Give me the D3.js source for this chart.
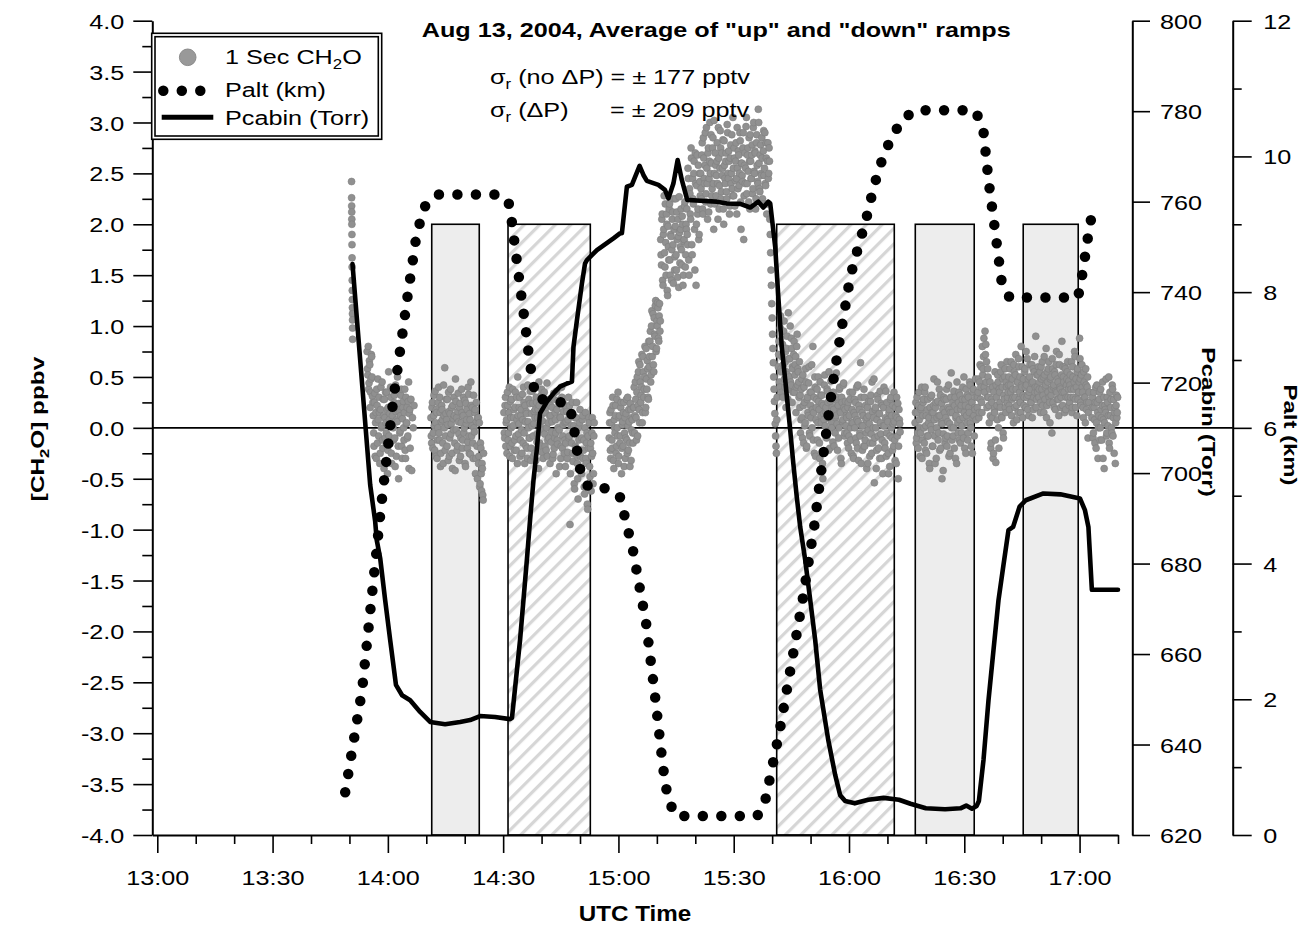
<!DOCTYPE html>
<html><head><meta charset="utf-8">
<script src="https://cdn.jsdelivr.net/npm/d3@7"></script>
<style>
body{margin:0;background:#fff;}
</style></head><body>
<svg id="chart" width="1307" height="928"></svg>
<script>
// ---------- DATA (times in minutes after 13:00 UTC) ----------
// Calibration boxes
const boxStart = ["14:11:25", "14:31:16", "15:41:11", "16:17:15", "16:45:20"];
const boxEnd   = ["14:23:47", "14:52:41", "16:11:47", "16:32:35", "16:59:39"];
const boxKind  = ["solid", "hatched", "hatched", "solid", "solid"];
const boxTop = 2.0;

// Palt (km)
const paltTime = [48.9, 53.3, 58.2, 61.4, 65.2, 67.3, 68.4, 69.9, 73.3, 87.9, 90.5, 91.4, 92.2, 93.4, 94.6, 95.8, 96.9, 98.5,
  103.0, 107.2, 108.2, 109.5, 110.3, 112.4, 117.3, 120.4, 123.8, 127.2, 129.5, 131.6, 132.9, 135.0, 156.1, 158.0, 162.0,
  168.0, 171.0, 173.3, 175.8, 178.0, 180.3, 182.8, 184.2, 186.4, 188.1, 190.7, 193.8, 197.2, 212.8, 214.9, 216.3, 218.0,
  219.8, 221.8, 239.6, 240.8, 242.2, 243.0, 247.1];
const paltKm = [0.63, 2.14, 4.82, 6.41, 7.97, 8.78, 9.04, 9.30, 9.44, 9.44, 9.39, 9.33, 9.06, 8.53, 8.00, 7.49, 6.97, 6.43,
  6.41, 6.34, 6.09, 5.56, 5.31, 5.11, 5.11, 4.98, 4.19, 3.12, 2.06, 1.00, 0.52, 0.28, 0.28, 0.45, 1.55,
  3.49, 4.57, 5.60, 6.66, 7.44, 8.22, 8.75, 9.01, 9.54, 9.87, 10.24, 10.54, 10.68, 10.68, 10.42, 9.65, 8.91,
  8.12, 7.92, 7.92, 8.29, 8.82, 9.08, 9.15];

// Pcabin (Torr)
const pcabTime = [50.8, 55.4, 56.7, 57.1, 58.0, 59.3, 60.6, 62.1, 63.7, 65.8, 68.4, 71.0, 74.9, 78.8, 81.4, 84.0, 87.9, 91.8,
  92.3, 94.4, 96.2, 97.0, 97.9, 98.75, 99.6, 101.4, 103.1, 104.8, 106.6, 107.9, 108.3, 109.2, 110.5, 111.3, 111.8, 114.4,
  118.7, 120.4, 120.9, 122.2, 123.5, 125.5, 126.5, 127.4, 130.4, 132.1, 133.0, 134.3, 135.4, 136.5, 137.9, 141.3, 145.6,
  148.2, 151.7, 154.3, 156.4, 157.7, 159.0, 159.5, 160.8, 161.6, 162.5, 163.4, 164.7, 165.5, 166.4, 167.3, 168.6, 169.9,
  171.2, 172.5, 174.6, 176.4, 177.7, 179.0, 181.5, 185.0, 189.0, 193.0, 196.0, 200.0, 205.0, 209.0, 210.5, 212.0, 213.2,
  213.8, 215.0, 216.3, 217.6, 218.9, 220.2, 221.5, 222.7, 224.4, 226.0, 230.6, 235.0, 240.1, 241.4, 242.3, 243.2, 250.0];
const pcabTorr = [746.2, 697.4, 689.3, 685.2, 681.2, 671.9, 663.1, 653.2, 650.9, 649.8, 647.2, 645.0, 644.5, 645.0, 645.4, 646.3, 646.1, 645.6,
  645.9, 663.1, 681.1, 689.6, 698.5, 705.1, 713.2, 715.8, 717.6, 719.1, 719.8, 720.2, 727.9, 733.8, 741.9, 746.3, 747.1, 749.3,
  751.9, 753.0, 753.0, 763.3, 763.7, 767.9, 765.9, 764.6, 763.7, 762.6, 760.7, 764.0, 769.2, 764.8, 760.4, 760.2, 760.0,
  759.6, 759.5, 758.7, 760.0, 758.7, 760.0, 759.6, 750.0, 739.0, 727.9, 720.6, 709.5, 702.2, 694.8, 688.1, 680.8, 672.0,
  663.1, 652.1, 641.0, 633.3, 628.8, 627.5, 627.0, 627.8, 628.2, 627.8, 626.9, 625.9, 625.7, 625.9, 626.5, 625.8, 626.4,
  627.5, 636.6, 649.8, 660.9, 671.9, 679.7, 687.4, 688.1, 692.6, 694.0, 695.5, 695.3, 694.4, 691.8, 688.1, 674.2, 674.2];

// 1 Sec CH2O (ppbv x 100), regularly sampled segments (two interleaved reading sets)
const ch2oSpike = [242, 226, 218, 212, 205, 200, 190, 180, 167, 158, 145, 135, 126, 118, 112, 106, 98, 87];
const ch2oA = [75, 52, 38, 66, 20, 48, 70, 31,
  12, -18, 34, 5, -30, 22, 48, -8, 15, -25, 40, 2, -12, 28, -40, 10, 35, -5, 18, -22,
  55, 8, -15, 30, -35, 12, 0, 25, -10, 42, -28, 6, 20, -50, 15, -3, 32, -18, 9, 26,
  -12, 38, -30, 4, 20, -8, 45, 14, -20, 28, -42, 10, 0, 22];
const ch2oA2 = [58, 80, 44, 62, 35, 72, 50, 25,
  -5, 25, -28, 15, 38, -15, 8, 30, -35, 18, 0, 45, -20, 12, 28, -10, 5, 35, -45, 20,
  -8, 14, 40, -25, 2, 22, -12, 32, -38, 16, 8, 50, -18, 24, -5, 12, 38, -30, 20, 0,
  15, -22, 30, 5, -10, 26, -40, 18];
const ch2oB = [10, -15, 25, -5, 32, -22, 5, 18, -30, 0, 40, -12, 15, -25, 22, 8, -35, 12, 59, -8,
  28, -18, 3, 35, -28, 14, -6, 20, -40, 9, 30, -15, 48, -2, -22, 16, 6, -32, 24, -10,
  38, -20, 12, -5, 27, -38, 4, 18, -14, 33, -25, 8, 45, -8, 20, -30, 0, 15, -45, 25,
  -18, 10, -35, 5, -55, -20, -62, -40, -71];
const ch2oB2 = [-8, 20, -20, 12, 2, 36, -28, 15, -12, 25, -5, 30, -38, 6, 18, -15, 42, 0, -22, 14,
  8, 28, -32, 16, -10, 38, 4, -25, 22, -2, 12, -42, 26, 10, -18, 34, -6, 20, -28, 5,
  15, -12, 30, 0, -35, 24, 8, -20, 40, -8, 14, -26, 22, 2, -15, 32, -4, 18, -30, 6,
  -50, 10, -28, -58, -15, -45, -35, -66, -25];
const ch2oC = [15, -10, 30, 5, -25, 22, -5, 40, -18, 10, 28, -30, 2, 18, -12, 35, -22, 8, 50, -6,
  20, -28, 12, -2, 33, -15, 25, -35, 6, 16, -20, 42, 0, -10, 24, -32, 14, 36, -8, 4,
  -25, 18, 30, -14, 10, -40, 22, 2, -18, 38, 7, -30, 26, -6, 15, -22, 44, -12, 5, 28,
  -35, 12, -4, 20, -26, 34, -10, 8, -45, 18, -16, 27, -2, 11, -30, 40, -20, 3, 23, -12,
  -38, 6, 16, -24, 30, -8, -95, 12, -15, 25, -33, 2, -60, -18, 10, -28, -50, 0, -40, 18,
  -22, -45, 8, -30, -12, -65, 15, -35, -5, -80, -20, 5, -48, -15, -28, 10, -55, -8];
const ch2oC2 = [-5, 22, -18, 8, 35, -12, 15, -28, 26, 0, -15, 38, 10, -22, 20, -8, 30, -35, 12, 4,
  30, -12, 18, -25, 8, 40, -5, 22, -18, 14, -30, 6, 28, -10, 36, -20, 2, 24, -28, 16,
  10, -32, 25, -6, 18, 45, -15, 8, 32, -24, 14, -2, 35, -18, 20, 0, -28, 26, -10, 12,
  22, -14, 6, -30, 28, -20, 15, -5, 36, -12, 0, 24, -38, 10, -18, 30, -8, 16, -25, 5,
  -15, 20, -30, 8, -10, 22, -45, 2, 15, -25, -5, -55, 10, -20, 25, -35, -70, -12, 5, -28,
  -40, -10, 12, -22, -58, 0, -30, -15, -75, -8, 10, -38, -20, -62, -5, -25, -45, 5];
const ch2oD = [-10, 15, -30, 5, -20, 22, -40, 0, 12, -25, 28, -8, -35, 10, -15, 20, -45, 3, -18, 25, -5, -30, 14, -12, 30, -22, 6, -38, 18, -2, 8, -15,
  20, -5, 45, 10, 35, -8, 55, 18, 62, 25, 40, 5, 70, 30, 50, 15, 78, 38, 58, 28,
  60, 85, 45, 100, 70, 112, 55, 92, 120, 75, 105, 123, 88, 110, 95];
const ch2oD2 = [5, -22, 18, -12, 30, -32, 8, -5, 22, -18, 0, 35, -28, 12, -8, 25, -20, 6, 15, -38, 10, -10, 28, -25, 2, 18, -15, 24, -32, 10, -5, 20,
  40, 12, 28, -12, 50, 22, 65, 5, 45, 32, 72, 15, 55, 38, 80, 20, 48, 66, 30, 85,
  70, 95, 52, 115, 80, 62, 108, 90, 125, 78, 100, 118, 85, 122, 105];
const ch2oHigh = [185, 160, 210, 140, 195, 172, 220, 150, 200, 130, 178, 215, 165, 190, 145, 205, 180, 225, 155, 198, 170, 212, 148, 188, 227, 162, 195, 175, 208, 140, 183, 218, 158, 200,
  215, 180, 245, 150, 230, 205, 265, 170, 225, 250, 195, 270, 140, 238, 210, 258, 190, 242,
  250, 225, 280, 210, 265, 240, 290, 230, 255, 205, 275, 245, 300, 220, 260, 235, 285, 195, 250, 270,
  228, 262, 240, 295, 215, 255, 275, 232, 248, 283, 200, 258, 240, 270, 225, 290, 245, 262, 218, 278,
  250, 235, 305, 228, 265, 243, 280, 210, 255, 272, 238, 290, 222, 260, 248, 275, 185, 258, 240, 296,
  230, 268, 252, 285, 215, 262, 245, 278, 235, 300, 250, 270, 225, 288, 242, 313, 260, 232, 278, 248,
  265, 220, 292, 255, 240, 280, 210, 262, 245, 275];
const ch2oHigh2 = [170, 205, 145, 190, 228, 158, 182, 210, 135, 198, 165, 220, 150, 188, 175, 212, 142, 195, 168, 225, 155, 185, 205, 138, 192, 178, 215, 160, 200, 150, 185, 222, 170, 195,
  190, 255, 165, 235, 210, 275, 180, 245, 220, 262, 155, 240, 200, 268, 215, 185, 250, 228,
  235, 268, 215, 285, 245, 258, 222, 295, 240, 270, 212, 262, 250, 288, 228, 275, 240, 302, 220, 258,
  248, 280, 205, 265, 238, 292, 225, 270, 255, 215, 282, 245, 262, 232, 298, 250, 272, 210, 265, 240,
  288, 228, 255, 275, 218, 262, 245, 295, 235, 268, 250, 282, 195, 260, 242, 290, 228, 270, 255, 305,
  240, 275, 222, 262, 288, 245, 268, 230, 295, 252, 272, 215, 280, 258, 240, 300, 235, 268, 250, 285,
  225, 272, 248, 290, 238, 265, 220, 280, 250, 262];
const ch2oDrop = [205, 190, 172, 155, 140, 122, 108, 92, 78, 64, 50, 38, 26, 14, 4, -8, -18, -25, 8, 30];
const ch2oE = [60, 85, 40, 110, 55, 70, 30, 95, 48, 65, 20, 78, 52, 113, 38, 68, 45, 88, 25, 58, 72, 35, 62, 15, 80, 42, 55, 30,
  20, -5, 38, 10, 52, -15, 25, 5, 45, -18, 30, 12, 60, -8, 22, 35, 0, 80, 15, -25, 40, 8, 28, -12, 50, 18, -30, 32, 5, 24,
  -50, 14, 42, 2, 20, -10, 36, 10, 55, -20, 26, 6, 34, -14, 18, 48, -5, 12, 30, -22, 22, 0, 40, 15, -35, 25, 8, 44, -8, 18, 2,
  10, -15, 25, -8, 35, 0, -25, 18, 5, -30, 28, 12, -10, 40, -20, 6, 22, -5, 64, -35, 15, 2, -18, 30, -12, 8, -40, 20, -2, 12,
  -28, 26, -6, 45, -15, 10, -54, 18, 0, -22, 32, -8, 14, -30, 5, 24, -12, -45, 20, 2, -20, 36, -5, 8, -25, 15, -38, 28, 0, -10,
  22, -18, 6, -32, 12, 30, -8, -50, 18, 4];
const ch2oE2 = [72, 45, 98, 58, 35, 82, 62, 105, 40, 75, 55, 90, 28, 68, 50, 100, 42, 78, 60, 35, 85, 52, 70, 40, 92, 58, 45, 65,
  32, 8, 48, -10, 22, 40, 2, 58, -20, 28, 15, 44, -5, 35, 10, 62, 18, -12, 30, 50, -28, 20, 38, 5, 26, -15, 45, 12, 32, -35,
  22, 8, 52, 16, -8, 38, 25, -22, 30, 12, 46, 0, 20, 35, -18, 28, 10, 54, 4, 24, -10, 38, 16, -30, 30, 6, 42, 20, -5, 26, 12,
  -5, 20, -20, 12, 28, -12, 5, 35, -28, 15, 0, 25, -15, 8, 42, -32, 18, -8, 30, 2, -22, 12, 38, -18, 22, -5, 10, -35, 26, 4,
  -15, 32, -25, 16, 0, 48, -10, 20, -40, 8, 28, -20, 14, 36, -6, -30, 22, 2, 40, -15, 10, -28, 25, 6, -45, 18, -8, 30, 12, -22,
  4, 35, -12, 20, -35, 10, 24, -18, 8, -4];
const ch2oF = [5, 25, -10, 15, -20, 35, 0, -5, 20, -30, 12, 28, -15, 40, 2, -25, 18, -8, 10, -40,
  30, -2, 15, -18, 22, 8, -35, 25, 0, 45, -12, 12, -22, 32, 5, -50, 18, -6, 28, -15,
  10, 38, -8, 20, -28, 4, 15, 54, -12, 25, 0, -20, 30, 10, -35, 18, -5, 35, 8, -15,
  22, 2, 40, -10, 15, 28, -25, 12, 32, -5, 20, 45, 5, -18, 25, 10, 38, -8, 18, 30];
const ch2oF2 = [15, -15, 30, -5, 22, 8, -28, 18, 40, -12, 25, 0, 35, -22, 12, -8, 28, 5, -35, 20,
  2, 32, -18, 15, 48, -8, 20, -30, 10, 26, -5, 38, 12, -20, 24, 4, -42, 30, 15, -10,
  28, -18, 6, 42, 18, -25, 30, 0, 15, -8, 36, 22, -30, 12, 45, 5, 25, -12, 32, 18,
  -5, 28, 10, 50, -20, 22, 38, 5, -12, 30, 15, 42, 0, 25, -25, 35, 12, 20, 48, 8];
const ch2oG = [20, 35, 10, 45, 28, 60, 15, 52, 70, 40, 95, 82, 65, 30, 50, 22, 38, 12, -15, 25, 40, -25, 18, 55, -34, 30, 8, 45, -20, 35, 20, 62, 10, 48, -10, 28, 58, 15, 40, 25,
  35, 50, 18, 42, 65, 28, 38, 5, 55, 30, 72, 22, 45, 15, 60, 35, 25, 80, 40, 10, 48, 30, 58, 20, 42, 68, 32, 12, 50, 38, 25, 62, 45, 18, 55, 35, 90, 28, 40, 52,
  30, 45, 15, 60, 38, 22, 50, 70, 28, 42, 10, 55, 35, 65, 25, 48, 32, -5, 58, 40, 20, 52, 36, 75, 28, 45, 12, 62, 38, 30, 85, 22, 50, 35, 60, 18, 42, 55, 30, 46,
  25, 52, 38, 15, 60, 30, 45, 70, 20, 40, 55, 28, 35, 88, 48, 22, 62, 35, 10, 45, 30, 58, 18, 40, -10, 25];
const ch2oG2 = [30, 48, 15, 62, 40, 25, 80, 58, 88, 35, 72, 45, 20, 58, 30, 5, 45, -20, 28, 10, -30, 35, 15, -12, 42, 22, 52, 0, 38, 25, 55, 12, 40, -5, 32, 50, 20, 45, 65, 30,
  42, 22, 58, 35, 12, 48, 30, 62, 20, 52, 38, 8, 45, 68, 28, 50, 15, 42, 60, 32, 22, 55, 40, 75, 30, 18, 48, 35, 62, 25, 44, 10, 58, 30, 70, 40, 20, 52, 35, 60,
  38, 55, 25, 48, 65, 32, 15, 52, 40, 78, 22, 45, 58, 30, 5, 50, 38, 68, 25, 42, 55, 18, 62, 35, 48, 28, 72, 40, 20, 52, 35, 60, 45, 15, 58, 30, 48, 65, 38, 22,
  42, 30, 65, 20, 50, 38, 75, 28, 48, 12, 58, 35, 45, 68, 25, 52, 40, 20, 55, 30, 5, 42, 25, 50, 15, 35];
const ch2oH = [10, 30, -5, 20, -15, 40, 5, 25, -30, 12, 35, 0, 18, -12, 45, 8, -40, 22, 15, -8, 30, 2, 50, -20, 12, 28, -5, 38, 10, -25, 20, 5, 32, 15];
const ch2oH2 = [20, -10, 35, 8, 25, -20, 42, 15, 0, 28, -12, 38, 10, 22, -30, 30, 5, 18, 48, -5, 25, 12, -15, 35, 20, 0, 42, -8, 28, 15, -35, 22, 10, 30];

const ch2oSegs     = [ch2oSpike, ch2oA, ch2oA2, ch2oB, ch2oB2, ch2oC, ch2oC2, ch2oD, ch2oD2, ch2oHigh, ch2oHigh2, ch2oDrop, ch2oE, ch2oE2, ch2oF, ch2oF2, ch2oG, ch2oG2, ch2oH, ch2oH2];
const ch2oSegStart = [50.55, 54.6, 54.7, 71.2, 71.3, 90.2, 90.3, 117.6, 117.7, 131.0, 131.1, 159.4, 161.6, 161.7, 197.2, 197.3, 213.4, 213.5, 243.2, 243.3];
const ch2oSegStep  = [1/60, 0.2, 0.2, 0.2, 0.2, 0.2, 0.2, 0.2, 0.2, 0.2, 0.2, 0.1, 0.2, 0.2, 0.2, 0.2, 0.2, 0.2, 0.2, 0.2];

// Axis ticks
const xMajor = [0, 30, 60, 90, 120, 150, 180, 210, 240];
const xLabels = ["13:00", "13:30", "14:00", "14:30", "15:00", "15:30", "16:00", "16:30", "17:00"];
const yLeftMajor = [-4, -3.5, -3, -2.5, -2, -1.5, -1, -0.5, 0, 0.5, 1, 1.5, 2, 2.5, 3, 3.5, 4];
const yPcabTicks = [620, 640, 660, 680, 700, 720, 740, 760, 780, 800];
const yPaltTicks = [0, 2, 4, 6, 8, 10, 12];

// ---------- DRAWING ----------
const FONT = '"Liberation Sans", Arial, Helvetica, sans-serif';
const SX = 1.2;
const svg = d3.select("#chart");
const tm = s => { const p = s.split(":").map(Number); return (p[0] - 13) * 60 + p[1] + (p[2] || 0) / 60; };

const x = d3.scaleLinear().domain([-1.3, 250]).range([152.3, 1118]);
const y = d3.scaleLinear().domain([-4, 4]).range([835, 20.7]);
const yP = d3.scaleLinear().domain([620, 800]).range([835, 20.7]);
const yA = d3.scaleLinear().domain([0, 12]).range([835, 20.7]);

// hatch pattern
const defs = svg.append("defs");
const pat = defs.append("pattern").attr("id", "hatch").attr("patternUnits", "userSpaceOnUse")
  .attr("width", 11).attr("height", 11).attr("patternTransform", "rotate(45)");
pat.append("rect").attr("width", 11).attr("height", 11).attr("fill", "#fff");
pat.append("rect").attr("x", 0).attr("y", 0).attr("width", 3.2).attr("height", 11).attr("fill", "#d6d6d6");

// boxes
svg.append("g").selectAll("rect").data(boxStart.map((s, i) => ({ s: tm(s), e: tm(boxEnd[i]), k: boxKind[i] })))
  .join("rect")
  .attr("x", d => x(d.s)).attr("width", d => x(d.e) - x(d.s))
  .attr("y", y(boxTop)).attr("height", y(-4) - y(boxTop))
  .attr("fill", d => d.k === "solid" ? "#ededed" : "url(#hatch)")
  .attr("stroke", "#000").attr("stroke-width", 1.6);

// zero line
svg.append("line").attr("x1", x.range()[0]).attr("x2", 1232.7).attr("y1", y(0)).attr("y2", y(0))
  .attr("stroke", "#000").attr("stroke-width", 1.6);

// scatter
const pts = [];
ch2oSegs.forEach((vals, i) => vals.forEach((v, j) => pts.push({ t: ch2oSegStart[i] + j * ch2oSegStep[i], v: v / 100 })));
pts.sort((a, b) => a.t - b.t);
svg.append("g").selectAll("circle").data(pts).join("circle")
  .attr("cx", d => x(d.t)).attr("cy", d => y(d.v)).attr("r", 3.5)
  .attr("fill", "#909090").attr("stroke", "#808080").attr("stroke-width", 0.6);

// Palt dotted line
const paltLine = d3.line().x(d => x(d[0])).y(d => yA(d[1]));
svg.append("path").datum(paltTime.map((t, i) => [t, paltKm[i]]))
  .attr("d", paltLine).attr("fill", "none").attr("stroke", "#000").attr("stroke-width", 10.5)
  .attr("stroke-linecap", "round").attr("stroke-dasharray", "0 18.5");

// Pcabin line
const pcabLine = d3.line().x(d => x(d[0])).y(d => yP(d[1]));
svg.append("path").datum(pcabTime.map((t, i) => [t, pcabTorr[i]]))
  .attr("d", pcabLine).attr("fill", "none").attr("stroke", "#000").attr("stroke-width", 4.6)
  .attr("stroke-linejoin", "round").attr("stroke-linecap", "round");

// axes
function styleAxis(g) {
  g.attr("font-family", FONT);
  g.select(".domain").attr("stroke-width", 2).attr("stroke", "#000");
  g.selectAll(".tick line").attr("stroke-width", 1.6).attr("stroke", "#000");
  g.selectAll(".tick text").attr("font-size", 21).attr("fill", "#000").attr("font-family", FONT);
}
// left
const gl = svg.append("g").attr("transform", "translate(152.3,0)")
  .call(d3.axisLeft(y).tickValues(yLeftMajor).tickSize(19).tickSizeOuter(0).tickFormat(d => d.toFixed(1)));
styleAxis(gl);
gl.selectAll(".tick text").attr("x", -28 / SX).attr("dy", "0.36em").attr("transform", `scale(${SX},1)`);
const glm = svg.append("g").attr("transform", "translate(152.3,0)")
  .call(d3.axisLeft(y).tickValues(d3.range(-3.75, 4, 0.5)).tickSize(10).tickFormat(""));
styleAxis(glm); glm.select(".domain").remove();

// bottom
const gb = svg.append("g").attr("transform", "translate(0,835)")
  .call(d3.axisBottom(x).tickValues(xMajor).tickSize(18).tickSizeOuter(0).tickFormat((d, i) => xLabels[i]));
styleAxis(gb);
gb.selectAll(".tick text").attr("y", 50.5).attr("dy", 0).attr("transform", `scale(${SX},1)`);
const gbm = svg.append("g").attr("transform", "translate(0,835)")
  .call(d3.axisBottom(x).tickValues(d3.range(10, 251, 10).filter(v => v % 30 !== 0)).tickSize(9).tickFormat(""));
styleAxis(gbm); gbm.select(".domain").remove();

// right Pcabin
const gp = svg.append("g").attr("transform", "translate(1132.3,0)")
  .call(d3.axisRight(yP).tickValues(yPcabTicks).tickSize(17.7).tickSizeOuter(0).tickFormat(d3.format("d")));
styleAxis(gp);
gp.selectAll(".tick text").attr("x", 27.7 / SX).attr("dy", "0.36em").attr("transform", `scale(${SX},1)`);

// right Palt
const ga = svg.append("g").attr("transform", "translate(1232.7,0)")
  .call(d3.axisRight(yA).tickValues(yPaltTicks).tickSize(19).tickSizeOuter(0).tickFormat(d3.format("d")));
styleAxis(ga);
ga.selectAll(".tick text").attr("x", 30.6 / SX).attr("dy", "0.36em").attr("transform", `scale(${SX},1)`);
const gam = svg.append("g").attr("transform", "translate(1232.7,0)")
  .call(d3.axisRight(yA).tickValues([1, 3, 5, 7, 9, 11]).tickSize(9).tickFormat(""));
styleAxis(gam); gam.select(".domain").remove();

// text helper
function label(px, py, { rot = 0, sx = SX, size = 21, weight = "normal", anchor = "start" } = {}) {
  const g = svg.append("g").attr("transform", `translate(${px},${py}) rotate(${rot}) scale(${sx},1)`);
  return g.append("text").attr("text-anchor", anchor).attr("font-size", size)
    .attr("font-weight", weight).attr("font-family", FONT).attr("fill", "#000");
}
function sub(t, main1, s, main2, subSize = 14, shift = 5) {
  t.append("tspan").text(main1);
  t.append("tspan").attr("font-size", subSize).attr("dy", shift).text(s);
  t.append("tspan").attr("dy", -shift).text(main2);
}

// title & annotations
label(421.7, 36.7, { weight: "bold" }).text('Aug 13, 2004, Average of "up" and "down" ramps');
sub(label(490, 84), "σ", "r", " (no ΔP) = ± 177 pptv");
sub(label(490, 117), "σ", "r", " (ΔP)");
label(610, 117).text("= ± 209 pptv");

// axis titles
label(635, 921, { sx: 1.1, size: 22, weight: "bold", anchor: "middle" }).text("UTC Time");
sub(label(44, 429, { rot: -90, sx: 1.28, size: 19, weight: "bold", anchor: "middle" }), "[CH", "2", "O]  ppbv", 13, 5);
label(1202, 422, { rot: 90, sx: 1.28, size: 19, weight: "bold", anchor: "middle" }).text("Pcabin (Torr)");
label(1284, 435, { rot: 90, sx: 1.26, size: 19, weight: "bold", anchor: "middle" }).text("Palt (km)");

// legend
const lg = svg.append("g");
lg.append("rect").attr("x", 151.7).attr("y", 33.3).attr("width", 230).attr("height", 106)
  .attr("fill", "#fff").attr("stroke", "#000").attr("stroke-width", 1.6);
lg.append("rect").attr("x", 155).attr("y", 36.7).attr("width", 223.3).attr("height", 99.3)
  .attr("fill", "none").attr("stroke", "#000").attr("stroke-width", 1.6);
lg.append("circle").attr("cx", 187.7).attr("cy", 57.3).attr("r", 8.3).attr("fill", "#999").attr("stroke", "#8a8a8a");
lg.append("path").attr("d", "M163.3,90.7H202").attr("stroke", "#000").attr("stroke-width", 10.5)
  .attr("stroke-linecap", "round").attr("stroke-dasharray", "0 18.5");
lg.append("path").attr("d", "M161.7,117.3H213.3").attr("stroke", "#000").attr("stroke-width", 5);
sub(label(225, 64.3), "1 Sec CH", "2", "O");
label(225, 97.3).text("Palt (km)");
label(225, 125).text("Pcabin (Torr)");
</script></body></html>
